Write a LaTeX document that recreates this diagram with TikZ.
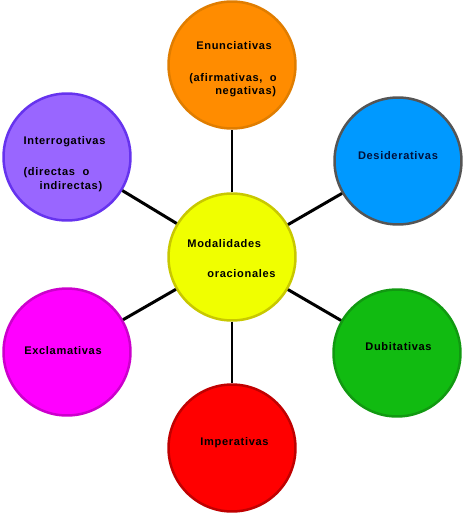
\documentclass[tikz,border=0pt]{standalone}
\usepackage{fontspec}
\usepackage{tikz}
\usetikzlibrary{positioning}
\newfontfamily\lblfont[LetterSpace=6]{Liberation Sans}
\definecolor{EnunFill}{RGB}{255,140,0}
\definecolor{EnunLine}{RGB}{224,125,0}
\definecolor{ModFill}{RGB}{240,255,0}
\definecolor{ModLine}{RGB}{200,200,0}
\definecolor{InterFill}{RGB}{153,102,255}
\definecolor{InterLine}{RGB}{102,51,238}
\definecolor{DesidFill}{RGB}{0,153,255}
\definecolor{DesidLine}{RGB}{85,85,85}
\definecolor{ExclFill}{RGB}{255,0,255}
\definecolor{ExclLine}{RGB}{204,0,204}
\definecolor{ImperFill}{RGB}{255,0,0}
\definecolor{ImperLine}{RGB}{192,0,0}
\definecolor{DubitFill}{RGB}{17,187,17}
\definecolor{DubitLine}{RGB}{17,153,17}
\definecolor{DarkNavy}{RGB}{0,16,58}

\begin{document}
\begin{tikzpicture}[x=0.02cm, y=-0.02cm,
    bubble/.style={circle, line width=0.05cm, minimum size=2.54cm, inner sep=0pt},
    lbl/.style={font=\lblfont\bfseries\fontsize{6.3}{7.4}\selectfont, text=black, inner sep=0pt},
    spoke/.style={line width=0.06cm, black}]
    \useasboundingbox (0,0) rectangle (466,515);
    % centre
    \node[bubble, fill=ModFill, draw=ModLine,
        label={[lbl, align=left, shift={(-0.5,2)}]center:{Modalidades\\[9.7pt]\hspace*{0.4cm}oracionales}}] (mod) at (232,257) {};
    % outer ring
    \node[bubble, fill=EnunFill, draw=EnunLine,
        label={[lbl, align=left, shift={(1,4.5)}]center:{\hspace*{0.14cm}Enunciativas\\[10.8pt](afirmativas,\ \ o\\\hspace*{0.52cm}negativas)}}] (enun) at (232,65) {};
    \node[bubble, fill=InterFill, draw=InterLine,
        label={[lbl, align=left, shift={(-2.5,7.5)}]center:{Interrogativas\\[9.7pt](directas\ \ o\\[1pt]\hspace*{0.32cm}indirectas)}}] (inter) at (67,157) {};
    \node[bubble, fill=DesidFill, draw=DesidLine,
        label={[lbl, text=DarkNavy, shift={(0,-5)}]center:Desiderativas}] (desid) at (398,161) {};
    \node[bubble, fill=ExclFill, draw=ExclLine,
        label={[lbl, shift={(-4,-1)}]center:Exclamativas}] (excl) at (67,352) {};
    \node[bubble, fill=ImperFill, draw=ImperLine,
        label={[lbl, shift={(2.5,-5)}]center:Imperativas}] (imper) at (232,448) {};
    \node[bubble, fill=DubitFill, draw=DubitLine,
        label={[lbl, shift={(1.5,-6)}]center:Dubitativas}] (dubit) at (397,353) {};
    % spokes
    \draw[spoke] (mod) -- (enun);
    \draw[spoke] (mod) -- (inter);
    \draw[spoke] (mod) -- (desid);
    \draw[spoke] (mod) -- (excl);
    \draw[spoke] (mod) -- (imper);
    \draw[spoke] (mod) -- (dubit);
\end{tikzpicture}
\end{document}
